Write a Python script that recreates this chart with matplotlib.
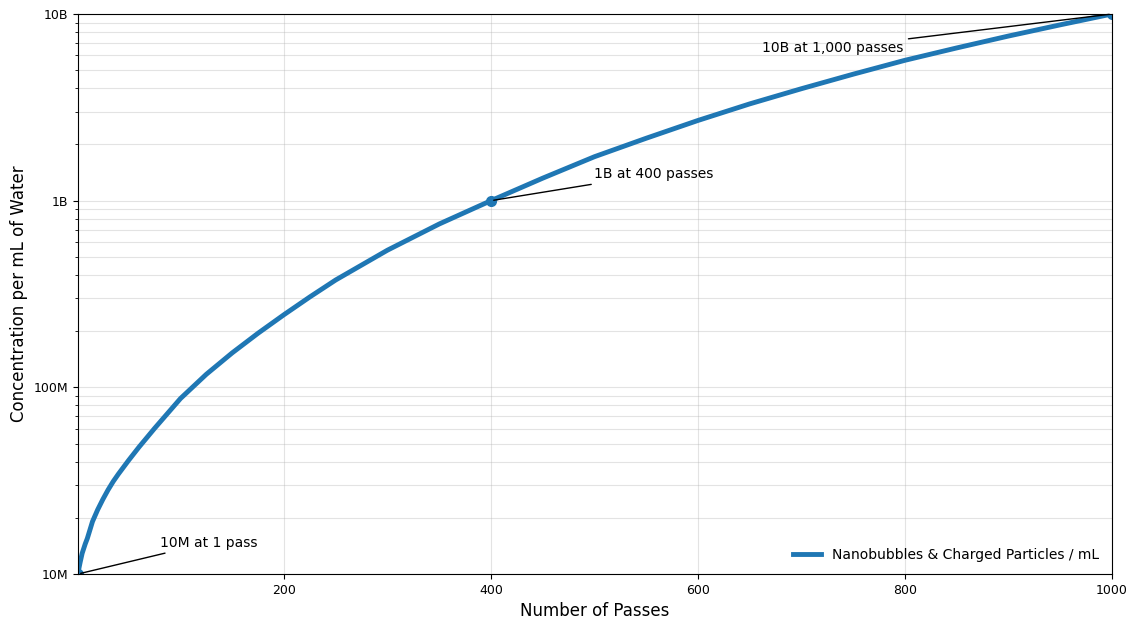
import matplotlib
matplotlib.use("Agg")
import matplotlib.pyplot as plt
from matplotlib.ticker import FixedLocator, FixedFormatter, LogLocator, NullFormatter

# values
passes = [1, 2, 3, 5, 8, 10, 15, 20, 25, 30, 35, 40, 50, 60, 75, 100, 125, 150, 175,
          200, 225, 250, 300, 350, 400, 450, 500, 550, 600, 650, 700, 750, 800, 850,
          900, 950, 1000]
concentration = [1.00e7, 1.08e7, 1.15e7, 1.29e7, 1.45e7, 1.55e7, 1.91e7, 2.21e7,
                 2.51e7, 2.82e7, 3.13e7, 3.43e7, 4.07e7, 4.79e7, 6.03e7, 8.71e7,
                 1.175e8, 1.53e8, 1.95e8, 2.45e8, 3.05e8, 3.76e8, 5.43e8, 7.50e8,
                 1.00e9, 1.32e9, 1.72e9, 2.16e9, 2.69e9, 3.30e9, 3.98e9, 4.76e9,
                 5.65e9, 6.58e9, 7.62e9, 8.75e9, 1.00e10]

key_passes = [1, 400, 1000]
key_conc = [1e7, 1e9, 1e10]
key_labels = ["10M at 1 pass", "1B at 400 passes", "10B at 1,000 passes"]
label_pos = [(80, 1.4e7), (500, 1.32e9), (798, 6.25e9)]
label_ha = ["left", "left", "right"]

ytick_vals = [1e7, 1e8, 1e9, 1e10]
ytick_labels = ["10M", "100M", "1B", "10B"]
xtick_vals = [200, 400, 600, 800, 1000]

blue = "#1f77b4"

fig = plt.figure(figsize=(11.29, 6.2), dpi=100)
ax = fig.add_axes([78 / 1129, 1 - 574 / 620, (1112 - 78) / 1129, (574 - 14) / 620])

ax.plot(passes, concentration, color=blue, linewidth=3.5, solid_joinstyle="round",
        label="Nanobubbles & Charged Particles / mL")
ax.plot(key_passes, key_conc, "o", color=blue, markersize=7)

for (x, y), txt, (tx, ty), ha in zip(zip(key_passes, key_conc), key_labels, label_pos, label_ha):
    ax.annotate(txt, xy=(x, y), xytext=(tx, ty), ha=ha, fontsize=10,
                arrowprops=dict(arrowstyle="-", color="black", lw=1))

ax.set_yscale("log")
ax.set_xlim(1, 1000)
ax.set_ylim(1e7, 1e10)
ax.yaxis.set_major_locator(FixedLocator(ytick_vals))
ax.yaxis.set_major_formatter(FixedFormatter(ytick_labels))
ax.yaxis.set_minor_locator(LogLocator(base=10, subs=range(2, 10)))
ax.yaxis.set_minor_formatter(NullFormatter())
ax.set_xticks(xtick_vals)
ax.tick_params(labelsize=9)

ax.grid(True, which="both", color="#b0b0b0", alpha=0.35, linewidth=0.8)

ax.set_xlabel("Number of Passes", fontsize=12)
ax.set_ylabel("Concentration per mL of Water", fontsize=12)
ax.legend(loc="lower right", frameon=False, fontsize=10)

fig.savefig("out.png", dpi=100)
